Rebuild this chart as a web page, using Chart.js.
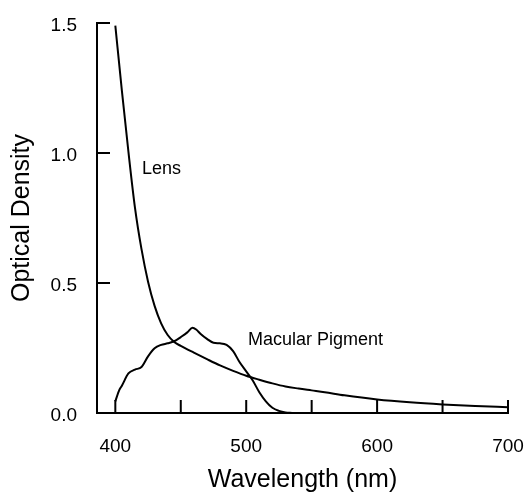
<!DOCTYPE html>
<html>
<head>
<meta charset="utf-8">
<script src="https://cdn.jsdelivr.net/npm/chart.js@4.4.1/dist/chart.umd.min.js"></script>
<style>
  html, body { margin: 0; padding: 0; background: #fff; }
  #wrap { width: 528px; height: 493px; }
</style>
</head>
<body>
<div id="wrap"><canvas id="chart"></canvas></div>
<script>
// values
const lensWavelengths = [400, 405, 410, 415, 420, 425, 430, 435, 440, 445, 450, 460, 470, 480, 490, 500, 510, 520, 530, 540, 550, 560, 575, 600, 625, 650, 675, 700];
const lensDensity = [1.49, 1.24, 1.005, 0.79, 0.63, 0.505, 0.412, 0.345, 0.3, 0.273, 0.258, 0.232, 0.207, 0.183, 0.162, 0.143, 0.128, 0.114, 0.102, 0.094, 0.087, 0.08, 0.068, 0.052, 0.041, 0.033, 0.027, 0.022];

const macularWavelengths = [400, 403, 405, 410, 415, 420, 425, 430, 435, 440, 445, 450, 455, 459, 462, 465, 470, 475, 480, 485, 490, 495, 500, 505, 510, 515, 520, 525, 530, 535];
const macularDensity = [0.045, 0.088, 0.105, 0.152, 0.167, 0.177, 0.218, 0.249, 0.262, 0.268, 0.276, 0.292, 0.31, 0.328, 0.32, 0.305, 0.285, 0.27, 0.268, 0.262, 0.238, 0.195, 0.16, 0.125, 0.08, 0.045, 0.02, 0.008, 0.002, 0];

const xTicks = [400, 450, 500, 550, 600, 650, 700];
const xLabels = ['400', '', '500', '', '600', '', '700'];
const yTicks = [0, 0.5, 1.0, 1.5];
const yLabels = ['0.0', '0.5', '1.0', '1.5'];

const curveLabels = [
  { text: 'Lens', x: 420.4, y: 0.92 },
  { text: 'Macular Pigment', x: 501.3, y: 0.263 }
];

const FONT = "'Liberation Sans', Arial, Helvetica, sans-serif";

const toPoints = (xs, ys) => xs.map((x, i) => ({ x: x, y: ys[i] }));

// ticks point into the plot area
const inwardTicks = {
  id: 'inwardTicks',
  afterDatasetsDraw(chart) {
    const { ctx, chartArea, scales } = chart;
    const len = 13;
    ctx.save();
    ctx.strokeStyle = '#000';
    ctx.lineWidth = 2;
    ctx.beginPath();
    scales.x.ticks.forEach(t => {
      const px = scales.x.getPixelForValue(t.value);
      ctx.moveTo(px, chartArea.bottom);
      ctx.lineTo(px, chartArea.bottom - len);
    });
    scales.y.ticks.forEach(t => {
      const py = scales.y.getPixelForValue(t.value);
      ctx.moveTo(chartArea.left, py);
      ctx.lineTo(chartArea.left + len, py);
    });
    ctx.stroke();

    ctx.fillStyle = '#000';
    ctx.font = '18px ' + FONT;
    ctx.textAlign = 'left';
    ctx.textBaseline = 'alphabetic';
    curveLabels.forEach(l => {
      ctx.fillText(l.text, scales.x.getPixelForValue(l.x), scales.y.getPixelForValue(l.y));
    });
    ctx.restore();
  }
};

new Chart(document.getElementById('chart'), {
  type: 'line',
  data: {
    datasets: [
      {
        label: 'Lens',
        data: toPoints(lensWavelengths, lensDensity),
        borderColor: '#000',
        borderWidth: 2,
        pointRadius: 0,
        cubicInterpolationMode: 'monotone',
        fill: false
      },
      {
        label: 'Macular Pigment',
        data: toPoints(macularWavelengths, macularDensity),
        borderColor: '#000',
        borderWidth: 2,
        pointRadius: 0,
        cubicInterpolationMode: 'monotone',
        fill: false
      }
    ]
  },
  options: {
    responsive: true,
    maintainAspectRatio: false,
    animation: false,
    layout: { padding: { top: 23, right: 20, left: 0, bottom: 0 } },
    plugins: {
      legend: { display: false },
      tooltip: { enabled: false }
    },
    scales: {
      x: {
        type: 'linear',
        min: 386,
        max: 700,
        grid: { display: false, drawTicks: false },
        border: { display: true, color: '#000', width: 2 },
        afterBuildTicks: scale => { scale.ticks = xTicks.map(v => ({ value: v })); },
        afterFit: scale => {
          scale.height = 80;
          scale.paddingLeft = 0;
          scale.paddingRight = 0;
        },
        ticks: {
          color: '#000',
          font: { family: FONT, size: 19 },
          padding: 22,
          maxRotation: 0,
          autoSkip: false,
          callback: (v) => xLabels[xTicks.indexOf(v)] || ''
        },
        title: {
          display: true,
          text: 'Wavelength (nm)',
          color: '#000',
          font: { family: FONT, size: 25, lineHeight: 1 },
          padding: 0
        }
      },
      y: {
        type: 'linear',
        min: 0,
        max: 1.5,
        grid: { display: false, drawTicks: false },
        border: { display: true, color: '#000', width: 2 },
        afterBuildTicks: scale => { scale.ticks = yTicks.map(v => ({ value: v })); },
        afterFit: scale => {
          scale.width = 97;
          scale.paddingTop = 0;
          scale.paddingBottom = 0;
        },
        ticks: {
          color: '#000',
          font: { family: FONT, size: 19 },
          padding: 20,
          labelOffset: 2.5,
          autoSkip: false,
          callback: (v) => yLabels[yTicks.indexOf(v)] || ''
        },
        title: {
          display: true,
          text: 'Optical Density',
          color: '#000',
          font: { family: FONT, size: 25, lineHeight: 1 },
          padding: { top: 9.7, bottom: 0 }
        }
      }
    }
  },
  plugins: [inwardTicks]
});
</script>
</body>
</html>
